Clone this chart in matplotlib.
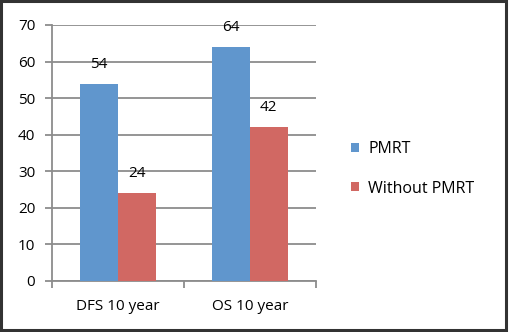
import matplotlib
matplotlib.use("Agg")
import matplotlib.pyplot as plt
from matplotlib.patches import Rectangle
import numpy as np

categories = ["DFS 10 year", "OS 10 year"]
pmrt = [54, 64]
without_pmrt = [24, 42]
series_names = ["PMRT", "Without PMRT"]
yticks = [0, 10, 20, 30, 40, 50, 60, 70]

blue = "#6096CD"
red = "#D16863"
grid_c = "#8C8C8C"
fs = 11

plt.rcParams['font.family'] = ['Open Sans', 'DejaVu Sans']
fig = plt.figure(figsize=(5.10, 3.32), dpi=100)
W, H = 510, 332
ax = fig.add_axes([52 / W, 1 - 281 / H, (316 - 52) / W, (281 - 25) / H])

x = np.arange(len(categories))
w = 0.285
b1 = ax.bar(x - w / 2, pmrt, w, color=blue, label=series_names[0], zorder=3)
b2 = ax.bar(x + w / 2, without_pmrt, w, color=red, label=series_names[1], zorder=3)

for bars, vals in ((b1, pmrt), (b2, without_pmrt)):
    for rect, v in zip(bars, vals):
        ax.annotate(str(v), (rect.get_x() + rect.get_width() / 2, v),
                    xytext=(0, 14), textcoords="offset points",
                    ha="center", va="center", fontsize=fs, color="black")

ax.set_xlim(-0.5, 1.5)
ax.set_ylim(0, 70)
ax.set_yticks(yticks)
ax.set_yticklabels([str(t) for t in yticks], fontsize=fs)
ax.yaxis.grid(True, color=grid_c, linewidth=1.3, zorder=0)
ax.set_axisbelow(True)
for s in ("top", "right"):
    ax.spines[s].set_visible(False)
for s in ("left", "bottom"):
    ax.spines[s].set_color(grid_c)
    ax.spines[s].set_linewidth(1.3)
ax.tick_params(axis="y", length=5, width=1.3, color=grid_c, pad=7)
ax.set_xticks([-0.5, 0.5, 1.5])
ax.set_xticklabels([])
ax.set_xticks(x, minor=True)
ax.set_xticklabels(categories, minor=True, fontsize=fs)
ax.tick_params(axis="x", which="major", length=5, width=1.3, color=grid_c)
ax.tick_params(axis="x", which="minor", length=0, pad=13)

handles = [b1, b2]
fig.legend(handles, series_names, loc="center left", bbox_to_anchor=(337 / W, 1 - 169 / H),
           frameon=False, fontsize=fs + 0.5, handlelength=0.5, handleheight=0.5,
           handletextpad=0.55, labelspacing=1.45)

fig.patches.append(Rectangle((0.002, 0.005), 0.991, 0.991, transform=fig.transFigure,
                             fill=False, edgecolor="#333333", linewidth=2.2))
fig.savefig("out.png", dpi=100)
